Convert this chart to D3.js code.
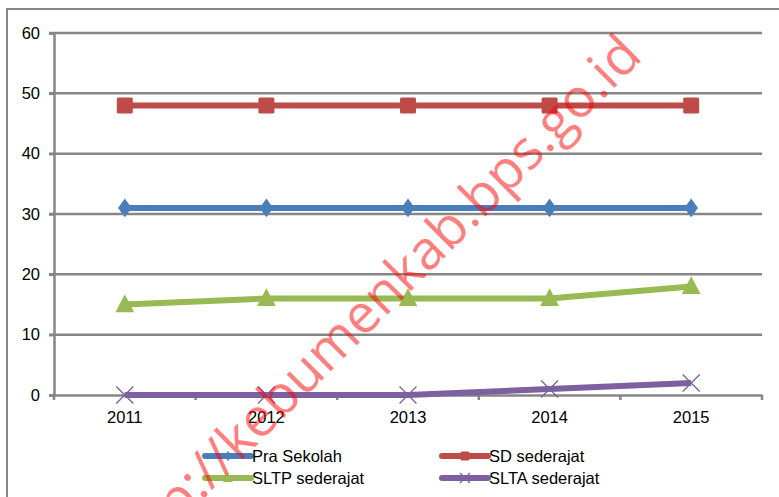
<!DOCTYPE html>
<html>
<head>
<meta charset="utf-8">
<script src="https://cdn.jsdelivr.net/npm/d3@7"></script>
<style>
  body { margin: 0; background: #fff; }
  text { font-family: "Liberation Sans", Arial, sans-serif; }
</style>
</head>
<body>
<svg id="chart" width="779" height="497"></svg>
<script>
// data
const years = ["2011", "2012", "2013", "2014", "2015"];
const praSekolah = [31, 31, 31, 31, 31];
const sdSederajat = [48, 48, 48, 48, 48];
const sltpSederajat = [15, 16, 16, 16, 18];
const sltaSederajat = [0, 0, 0, 1, 2];
const yTicks = [0, 10, 20, 30, 40, 50, 60];

const series = [
  { name: "Pra Sekolah", values: praSekolah, color: "#4a7ebb", marker: "diamond" },
  { name: "SD sederajat", values: sdSederajat, color: "#be4b48", marker: "square" },
  { name: "SLTP sederajat", values: sltpSederajat, color: "#98b954", marker: "triangle" },
  { name: "SLTA sederajat", values: sltaSederajat, color: "#7d60a0", marker: "x" }
];

const svg = d3.select("#chart");
const margin = { top: 33, left: 54, right: 17, bottom: 102 };
const width = 779, height = 497;
const innerW = width - margin.left - margin.right;
const innerH = height - margin.top - margin.bottom;
const grey = "#868686";
const fontSize = 16.5;

//outer chart frame (only left and top edges visible)
svg.append("path")
  .attr("d", `M7,${height} L7,9 L${width},9`)
  .attr("fill", "none")
  .attr("stroke", grey)
  .attr("stroke-width", 2);

const g = svg.append("g").attr("transform", `translate(${margin.left},${margin.top})`);

const x = d3.scaleBand().domain(years).range([0, innerW]);
const y = d3.scaleLinear().domain([0, 60]).range([innerH, 0]);

//gridlines
g.selectAll(".grid").data(yTicks.filter(d => d > 0)).enter()
  .append("line")
  .attr("x1", -5).attr("x2", innerW)
  .attr("y1", d => y(d)).attr("y2", d => y(d))
  .attr("stroke", grey).attr("stroke-width", 2.5);

//y axis
const yAxis = g.append("g")
  .call(d3.axisLeft(y).tickValues(yTicks).tickSize(5).tickPadding(9));
yAxis.select(".domain").attr("stroke", grey).attr("stroke-width", 2.5);
yAxis.selectAll(".tick line").attr("stroke", grey).attr("stroke-width", 2.5);
yAxis.selectAll(".tick text").attr("font-size", fontSize).attr("fill", "#000")
  .style("font-family", "'Liberation Sans', Arial, sans-serif");

//x axis, ticks between categories
const xAxis = g.append("g").attr("transform", `translate(0,${innerH})`)
  .call(d3.axisBottom(x).tickSize(0).tickPadding(16));
xAxis.select(".domain").attr("stroke", grey).attr("stroke-width", 2.5);
xAxis.selectAll(".tick text").attr("font-size", fontSize).attr("fill", "#000")
  .style("font-family", "'Liberation Sans', Arial, sans-serif");
g.selectAll(".xtick").data(d3.range(years.length + 1)).enter()
  .append("line")
  .attr("x1", i => i * x.step()).attr("x2", i => i * x.step())
  .attr("y1", innerH).attr("y2", innerH + 5)
  .attr("stroke", grey).attr("stroke-width", 2.5);

const cx = d => x(d) + x.bandwidth() / 2;

function drawMarker(sel, type, color, s) {
  if (type === "diamond") {
    sel.append("path").attr("d", `M0,${-s * 0.55} L${s * 0.4},0 L0,${s * 0.55} L${-s * 0.4},0 Z`).attr("fill", color);
  } else if (type === "square") {
    sel.append("rect").attr("x", -s / 2).attr("y", -s / 2).attr("width", s).attr("height", s).attr("rx", 1.5).attr("fill", color);
  } else if (type === "triangle") {
    sel.append("path").attr("d", `M0,${-s * 0.6} L${s * 0.55},${s * 0.45} L${-s * 0.55},${s * 0.45} Z`).attr("fill", color);
  } else {
    sel.append("path").attr("d", `M${-s / 2},${-s / 2} L${s / 2},${s / 2} M${-s / 2},${s / 2} L${s / 2},${-s / 2}`)
      .attr("stroke", color).attr("stroke-width", 1.3).attr("fill", "none");
  }
}

const markerSize = { diamond: 17, square: 16, triangle: 17, x: 17 };
const line = d3.line().x(d => cx(d.year)).y(d => y(d.value));

series.forEach(s => {
  const pts = years.map((yr, i) => ({ year: yr, value: s.values[i] }));
  g.append("path").datum(pts)
    .attr("d", line)
    .attr("fill", "none")
    .attr("stroke", s.color)
    .attr("stroke-width", 6)
    .attr("stroke-linejoin", "round");
  pts.forEach(p => {
    const m = g.append("g").attr("transform", `translate(${cx(p.year)},${y(p.value)})`);
    drawMarker(m, s.marker, s.color, markerSize[s.marker]);
  });
});

//legend
const legendPos = [[205, 456], [442, 456], [205, 478], [442, 478]];
series.forEach((s, i) => {
  const [lx, ly] = legendPos[i];
  const lg = svg.append("g").attr("transform", `translate(${lx},${ly})`);
  lg.append("line").attr("x1", 0).attr("x2", 46).attr("y1", 0).attr("y2", 0)
    .attr("stroke", s.color).attr("stroke-width", 6).attr("stroke-linecap", "round");
  const m = lg.append("g").attr("transform", "translate(23,0)");
  drawMarker(m, s.marker, s.color, s.marker === "x" ? 10 : 9);
  lg.append("text").attr("x", 47).attr("y", 6)
    .attr("font-size", fontSize).attr("fill", "#000").text(s.name);
});

//watermark
svg.append("text")
  .attr("transform", "translate(644,58) rotate(-45)")
  .attr("text-anchor", "end")
  .attr("font-size", 54)
  .style("font-family", "'Open Sans', sans-serif")
  .attr("fill", "#ff0000")
  .attr("fill-opacity", 0.5)
  .text("http://kebumenkab.bps.go.id");
</script>
</body>
</html>
